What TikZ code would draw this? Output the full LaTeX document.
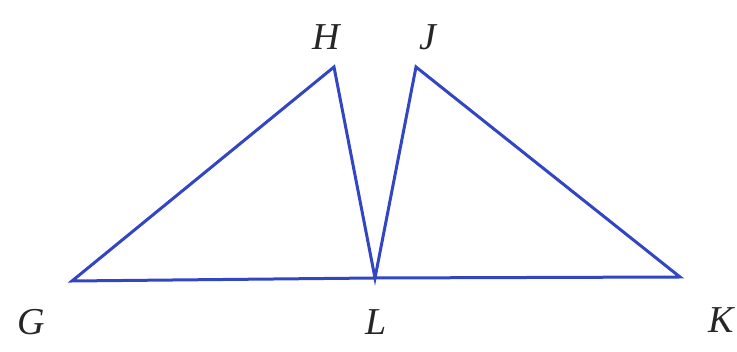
\documentclass[tikz,border=0pt]{standalone}
\usepackage{fontspec}
\setmainfont{Liberation Serif}
\definecolor{lineblue}{RGB}{50,70,195}
\begin{document}
\begin{tikzpicture}[x=1pt,y=-1pt,
  seg/.style={draw=lineblue,line width=3pt,line join=miter},
  lbl/.style={font=\fontsize{38}{42}\selectfont\itshape,text=black!85,inner sep=0pt}]
\useasboundingbox (0,0) rectangle (737,352);
\coordinate (G) at (72,281);
\coordinate (H) at (334,67);
\coordinate (L) at (375,278);
\coordinate (J) at (416,67);
\coordinate (K) at (680,277);
\draw[seg] (G) -- (H) -- (L) -- (J) -- (K) -- (L) -- cycle;
\node[lbl] (lG) at (31,322) {G};
\node[lbl] (lH) at (326,37) {H};
\node[lbl] (lJ) at (428,37) {J};
\node[lbl] (lL) at (376,322) {L};
\node[lbl] (lK) at (721,320) {K};
\end{tikzpicture}
\end{document}
